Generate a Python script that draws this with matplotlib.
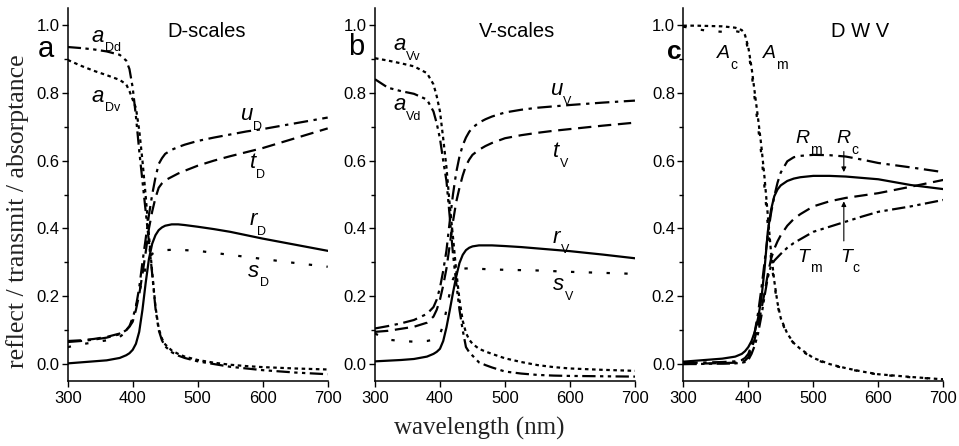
import matplotlib
matplotlib.use("Agg")
import matplotlib.pyplot as plt
from matplotlib.ticker import MultipleLocator, FormatStrFormatter

plt.rcParams["font.family"] = ["Liberation Sans", "DejaVu Sans"]

# wavelength grid (nm) shared by all curves
wl = [300, 320, 340, 360, 380, 390, 395, 400, 405, 410, 415, 420, 425, 430,
      435, 440, 445, 450, 460, 470, 480, 500, 525, 550, 575, 600, 650, 700]

# panel a: D-scales
r_D = [0.002, 0.005, 0.008, 0.011, 0.018, 0.026, 0.032, 0.042, 0.060, 0.095, 0.160, 0.240, 0.310, 0.355,
       0.380, 0.395, 0.403, 0.408, 0.412, 0.412, 0.410, 0.405, 0.398, 0.390, 0.380, 0.370, 0.352, 0.334]
s_D = [0.050, 0.058, 0.064, 0.070, 0.080, 0.095, 0.110, 0.135, 0.170, 0.210, 0.250, 0.285, 0.312, 0.325,
       0.330, 0.333, 0.335, 0.336, 0.337, 0.337, 0.336, 0.334, 0.328, 0.322, 0.316, 0.310, 0.298, 0.287]
u_D = [0.065, 0.068, 0.072, 0.078, 0.088, 0.100, 0.112, 0.135, 0.170, 0.225, 0.300, 0.370, 0.440, 0.500,
       0.550, 0.590, 0.607, 0.620, 0.632, 0.640, 0.647, 0.658, 0.668, 0.677, 0.686, 0.693, 0.710, 0.727]
t_D = [0.068, 0.070, 0.074, 0.080, 0.090, 0.100, 0.110, 0.125, 0.160, 0.205, 0.265, 0.330, 0.400, 0.450,
       0.490, 0.520, 0.533, 0.542, 0.552, 0.562, 0.570, 0.585, 0.600, 0.613, 0.625, 0.637, 0.666, 0.695]
a_Dd = [0.935, 0.932, 0.928, 0.922, 0.912, 0.895, 0.870, 0.815, 0.730, 0.630, 0.540, 0.450, 0.360, 0.265,
        0.165, 0.100, 0.070, 0.052, 0.035, 0.025, 0.018, 0.008, 0.000, -0.008, -0.013, -0.018, -0.025, -0.030]
a_Dv = [0.897, 0.880, 0.865, 0.852, 0.838, 0.825, 0.805, 0.780, 0.755, 0.690, 0.600, 0.495, 0.380, 0.270,
        0.170, 0.105, 0.075, 0.058, 0.040, 0.030, 0.022, 0.012, 0.004, -0.002, -0.006, -0.009, -0.013, -0.016]

# panel b: V-scales
r_V = [0.008, 0.010, 0.012, 0.015, 0.022, 0.030, 0.036, 0.045, 0.068, 0.108, 0.158, 0.210, 0.258, 0.298,
       0.322, 0.336, 0.343, 0.347, 0.350, 0.350, 0.350, 0.348, 0.345, 0.341, 0.337, 0.333, 0.323, 0.312]
s_V = [0.090, 0.072, 0.068, 0.066, 0.068, 0.072, 0.076, 0.088, 0.115, 0.160, 0.210, 0.250, 0.270, 0.278,
       0.281, 0.282, 0.282, 0.282, 0.281, 0.280, 0.279, 0.278, 0.277, 0.276, 0.274, 0.272, 0.269, 0.266]
u_V = [0.105, 0.112, 0.120, 0.130, 0.148, 0.168, 0.190, 0.225, 0.275, 0.335, 0.420, 0.500, 0.565, 0.612,
       0.645, 0.668, 0.685, 0.697, 0.712, 0.722, 0.730, 0.742, 0.750, 0.756, 0.760, 0.764, 0.771, 0.777]
t_V = [0.095, 0.098, 0.104, 0.110, 0.122, 0.140, 0.160, 0.190, 0.232, 0.282, 0.350, 0.420, 0.478, 0.520,
       0.556, 0.585, 0.603, 0.617, 0.632, 0.643, 0.652, 0.666, 0.675, 0.682, 0.688, 0.693, 0.703, 0.712]
a_Vv = [0.902, 0.895, 0.887, 0.878, 0.858, 0.825, 0.790, 0.745, 0.665, 0.580, 0.470, 0.375, 0.275, 0.190,
        0.128, 0.092, 0.072, 0.060, 0.045, 0.037, 0.030, 0.017, 0.006, -0.003, -0.009, -0.013, -0.017, -0.020]
a_Vd = [0.840, 0.815, 0.805, 0.797, 0.780, 0.745, 0.710, 0.665, 0.600, 0.540, 0.435, 0.325, 0.240, 0.160,
        0.100, 0.050, 0.035, 0.025, 0.005, -0.003, -0.010, -0.022, -0.028, -0.032, -0.034, -0.035, -0.036, -0.037]

# panel c: D W V
A_m = [0.998, 0.998, 0.997, 0.996, 0.992, 0.985, 0.970, 0.935, 0.875, 0.800, 0.725, 0.645, 0.550, 0.440,
       0.330, 0.245, 0.180, 0.135, 0.090, 0.062, 0.045, 0.018, 0.000, -0.012, -0.022, -0.030, -0.038, -0.045]
A_c = [0.995, 0.988, 0.982, 0.980, 0.982, 0.978, 0.965, 0.925, 0.860, 0.780, 0.700, 0.620, 0.520, 0.410,
       0.310, 0.235, 0.175, 0.130, 0.088, 0.060, 0.042, 0.016, -0.002, -0.013, -0.023, -0.031, -0.039, -0.045]
R_m = [0.003, 0.004, 0.005, 0.006, 0.008, 0.012, 0.018, 0.030, 0.055, 0.095, 0.150, 0.220, 0.300, 0.380,
       0.445, 0.495, 0.535, 0.565, 0.598, 0.610, 0.614, 0.617, 0.616, 0.612, 0.603, 0.593, 0.580, 0.566]
R_c = [0.007, 0.010, 0.013, 0.016, 0.022, 0.030, 0.038, 0.050, 0.068, 0.095, 0.135, 0.190, 0.280, 0.390,
       0.455, 0.495, 0.515, 0.527, 0.540, 0.547, 0.551, 0.555, 0.555, 0.553, 0.549, 0.545, 0.528, 0.516]
T_c = [0.000, 0.001, 0.002, 0.003, 0.004, 0.006, 0.010, 0.020, 0.045, 0.075, 0.115, 0.160, 0.210, 0.265,
       0.310, 0.340, 0.362, 0.380, 0.408, 0.428, 0.442, 0.465, 0.480, 0.490, 0.497, 0.504, 0.523, 0.543]
T_m = [0.000, 0.000, 0.001, 0.001, 0.002, 0.004, 0.006, 0.012, 0.030, 0.055, 0.090, 0.140, 0.200, 0.255,
       0.290, 0.305, 0.315, 0.325, 0.343, 0.357, 0.368, 0.390, 0.405, 0.420, 0.435, 0.449, 0.465, 0.484]

# line styles (dash patterns in points)
SOLID = None
DASH = (6, 3)
DASHDOT = (6.5, 2.5, 1.5, 2.5)
DASHDOTDOT = (6, 2, 1.5, 2, 1.5, 2)
DOTS = (1.6, 1.6)
SPARSE = (1.5, 6.5)
LW = 1.6

fig = plt.figure(figsize=(9.59, 4.46), dpi=100)
bottom, height, width = 0.1457, 0.8363, 0.2711
lefts = [0.0706, 0.3910, 0.7125]
axes = [fig.add_axes([l, bottom, width, height]) for l in lefts]


def curve(ax, y, dashes):
    line, = ax.plot(wl, y, color="black", lw=LW)
    if dashes is not None:
        line.set_dashes(dashes)


def label(ax, x, y, main, sub, size=16, subsize=9):
    t = ax.text(x, y, main, fontsize=size, style="italic", ha="left", va="baseline")
    ax.annotate(sub, xy=(1, 0), xycoords=t, xytext=(0.3, 3.0),
                textcoords="offset points", fontsize=subsize, ha="left", va="top")


for ax in axes:
    ax.set_xlim(300, 700)
    ax.set_ylim(-0.05, 1.05)
    ax.spines["top"].set_visible(False)
    ax.spines["right"].set_visible(False)
    ax.spines["left"].set_linewidth(1.1)
    ax.spines["bottom"].set_linewidth(1.1)
    ax.xaxis.set_major_locator(MultipleLocator(100))
    ax.yaxis.set_major_locator(MultipleLocator(0.2))
    ax.yaxis.set_minor_locator(MultipleLocator(0.1))
    ax.yaxis.set_major_formatter(FormatStrFormatter("%.1f"))
    ax.tick_params(which="major", direction="out", length=4, width=1.0, labelsize=12)
    ax.tick_params(which="minor", direction="out", length=3, width=1.0)
    ax.tick_params(axis="y", pad=2)

# panel a
ax = axes[0]
curve(ax, a_Dd, DASHDOTDOT)
curve(ax, a_Dv, DOTS)
curve(ax, u_D, DASHDOT)
curve(ax, t_D, DASH)
curve(ax, r_D, SOLID)
curve(ax, s_D, SPARSE)
ax.text(514, 0.982, "D-scales", fontsize=14.5, ha="center", va="center")
ax.text(266.6, 0.906, "a", fontsize=21, ha="center", va="baseline", clip_on=False)
label(ax, 337, 0.951, "a", "Dd")
label(ax, 337, 0.774, "a", "Dv")
label(ax, 565, 0.72, "u", "D")
label(ax, 580, 0.578, "t", "D")
label(ax, 580, 0.41, "r", "D")
label(ax, 578, 0.258, "s", "D")

# panel b
ax = axes[1]
curve(ax, a_Vv, DOTS)
curve(ax, a_Vd, DASHDOTDOT)
curve(ax, u_V, DASHDOT)
curve(ax, t_V, DASH)
curve(ax, r_V, SOLID)
curve(ax, s_V, SPARSE)
ax.text(518, 0.982, "V-scales", fontsize=14.5, ha="center", va="center")
ax.text(271.5, 0.912, "b", fontsize=21, ha="center", va="baseline", clip_on=False)
label(ax, 328, 0.926, "a", "Vv")
label(ax, 328, 0.749, "a", "Vd")
label(ax, 569, 0.794, "u", "V")
label(ax, 574, 0.61, "t", "V")
label(ax, 574, 0.357, "r", "V")
label(ax, 574, 0.218, "s", "V")

# panel c
ax = axes[2]
curve(ax, A_m, DOTS)
curve(ax, A_c, SPARSE)
curve(ax, R_m, DASHDOT)
curve(ax, R_c, SOLID)
curve(ax, T_c, DASH)
curve(ax, T_m, DASHDOTDOT)
ax.text(572, 0.982, "D W V", fontsize=14.5, ha="center", va="center")
ax.text(285.7, 0.899, "c", fontsize=19, fontweight="bold", ha="center", va="baseline", clip_on=False)
label(ax, 352, 0.902, "A", "c", size=14, subsize=10)
label(ax, 422.6, 0.902, "A", "m", size=14, subsize=10)
label(ax, 472, 0.651, "R", "m", size=14, subsize=10)
label(ax, 536, 0.651, "R", "c", size=14, subsize=10)
label(ax, 476, 0.302, "T", "m", size=14, subsize=10)
label(ax, 541, 0.302, "T", "c", size=14, subsize=10)
arrow = dict(arrowstyle="-|>", lw=0.8, color="black", mutation_scale=7)
ax.annotate("", xy=(547, 0.558), xytext=(547, 0.635), arrowprops=arrow)
ax.annotate("", xy=(547, 0.488), xytext=(547, 0.355), arrowprops=arrow)

fig.text(17.5 / 959, 0.527, "reflect / transmit / absorptance",
         family="Liberation Serif", fontsize=18.5, rotation=90, ha="center", va="center", color="#222222")
fig.text(0.5, 0.040, "wavelength (nm)", family="Liberation Serif", fontsize=18,
         ha="center", va="center", color="#222222")

fig.savefig("out.png", dpi=100)
